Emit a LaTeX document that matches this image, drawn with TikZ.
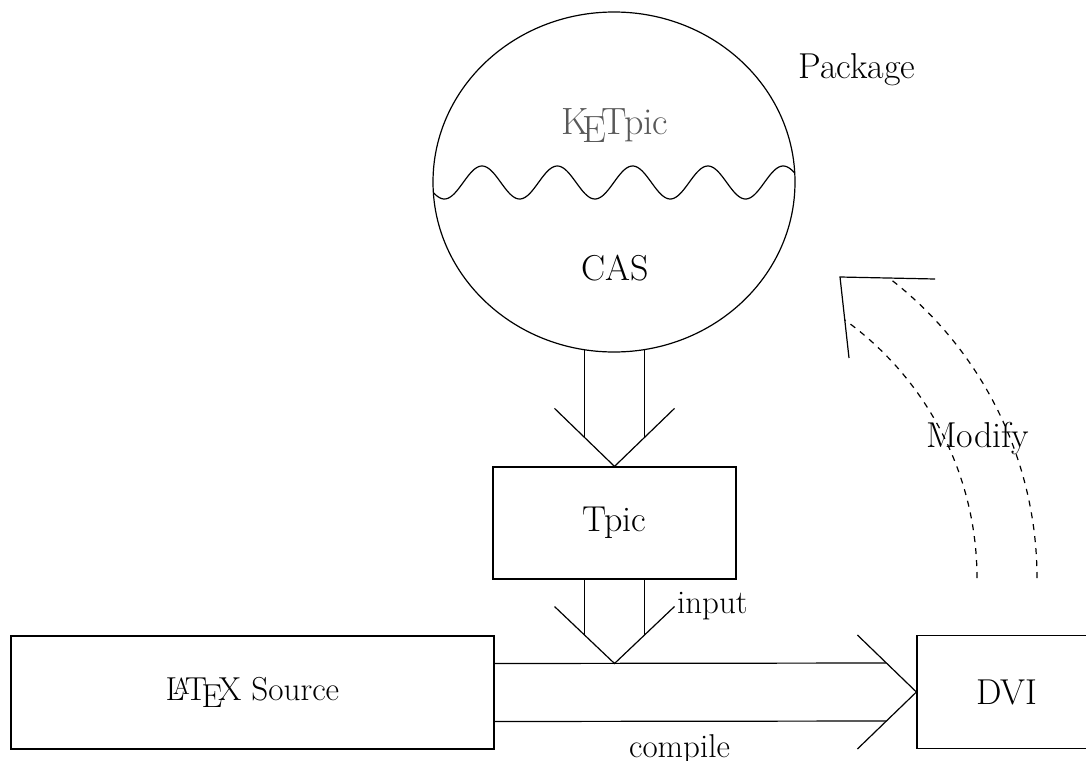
\documentclass[tikz,border=0pt]{standalone}
\usepackage{fontspec}
\usetikzlibrary{shapes.geometric,calc}
\newcommand{\KETpiclogo}{K\kern-.17em\lower.5ex\hbox{E}\kern-.125em Tpic}
\begin{document}
\begin{tikzpicture}[x=0.5pt,y=-0.5pt,line width=0.6pt,
  big/.style={font=\fontsize{18}{22}\selectfont},
  mid/.style={font=\fontsize{16.6}{20}\selectfont},
  small/.style={font=\fontsize{16.5}{20}\selectfont},
  boxnode/.style={draw,rectangle,inner sep=0pt,big},
  dashedshaft/.style={dash pattern=on 3pt off 3pt}]
\useasboundingbox (0,0) rectangle (1086,760);
\clip (0,0) rectangle (1086,760);
% package circle
\node[draw,ellipse,minimum width=181pt,minimum height=170pt,inner sep=0pt] (cas) at (614,182) {};
\begin{scope}
  \clip (cas.center) ellipse [x radius=181, y radius=170];
  \draw plot[domain=420:810,samples=240,smooth] (\x,{182.5-16.5*cos(4.7809*(\x-482))});
\end{scope}
\node[font=\fontsize{19}{23}\selectfont,anchor=base,text=black!65] (ket) at (615,134) {\KETpiclogo};
\node[big,anchor=base] (castext) at (615,280) {CAS};
\node[big,anchor=base] (pkg) at (857,78) {Package};
% boxes
\node[boxnode,minimum width=121.5pt,minimum height=56pt] (tpic) at (614.5,523) {Tpic};
\node[boxnode,mid,minimum width=241.5pt,minimum height=56.5pt] (latex) at (252.5,692.5) {\LaTeX\ Source};
\node[boxnode,minimum width=90pt,minimum height=56.5pt] (dvi) at (1007,692) {DVI};
% arrow CAS -> Tpic
\coordinate (s1) at ($(tpic.north)+(-30,0)$);
\coordinate (s2) at ($(tpic.north)+(30,0)$);
\draw (s1 |- cas.260) -- ($(s1)+(0,-29)$);
\draw (s2 |- cas.280) -- ($(s2)+(0,-29)$);
\draw ($(tpic.north)+(-60,-58)$) -- (tpic.north) -- ($(tpic.north)+(60,-58)$);
% arrow Tpic -> compile line
\coordinate (top) at ($(latex.east)+(0,-29)$);
\coordinate (tip2) at (tpic.south |- top);
\draw ($(tpic.south)+(-30,0)$) -- ($(tip2)+(-30,-29)$);
\draw ($(tpic.south)+(30,0)$) -- ($(tip2)+(30,-29)$);
\draw ($(tip2)+(-60,-57)$) -- (tip2) -- ($(tip2)+(60,-57)$);
\node[small,anchor=west,inner sep=1pt] (inp) at ($(tip2)+(60,-57)$) {input};
% arrow LaTeX -> DVI
\draw ($(latex.east)+(0,-29)$) -- ($(dvi.west)+(-30,-29)$);
\draw ($(latex.east)+(0,29)$) -- ($(dvi.west)+(-30,29)$);
\draw ($(dvi.west)+(-59,-57)$) -- (dvi.west) -- ($(dvi.west)+(-59,57)$);
\node[small,anchor=base] (comp) at (679.5,757) {compile};
% modify arrow
\coordinate (mc) at (659,578);
\draw[dashedshaft] ($(mc)+(318,0)$) arc[start angle=0,end angle=-54.2,radius=318];
\draw[dashedshaft] ($(mc)+(378,0)$) arc[start angle=0,end angle=-52.5,radius=378];
\coordinate (mtip) at ($(mc)+(181,-301)$);
\draw ($(mc)+(276,-299)$) -- (mtip) -- ($(mc)+(190,-220)$);
\node[big,anchor=base] (mod) at (977.5,447) {Modify};
\end{tikzpicture}
\end{document}
